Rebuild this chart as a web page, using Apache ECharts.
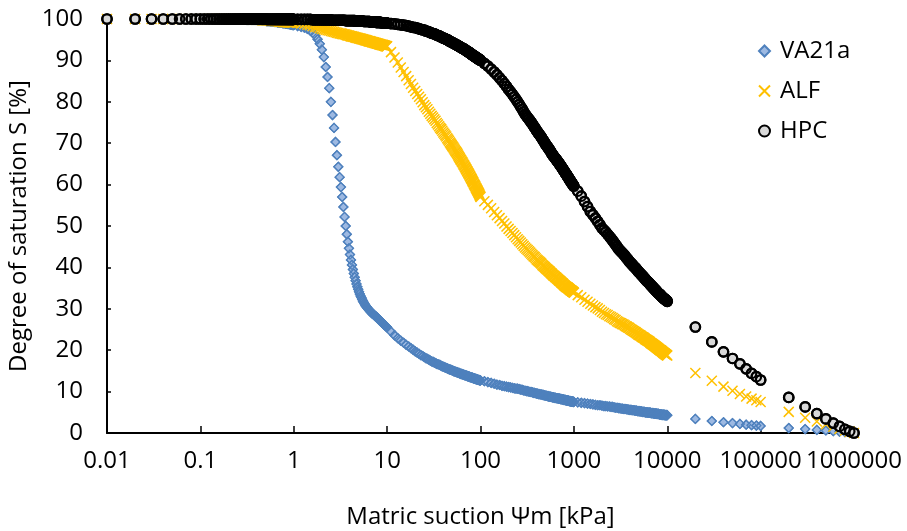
<!DOCTYPE html>
<html>
<head>
<meta charset="utf-8">
<script src="https://cdn.jsdelivr.net/npm/echarts@6/dist/echarts.min.js"></script>
<style>html,body{margin:0;padding:0;background:#fff;}#chart{width:907px;height:531px;}</style>
</head>
<body>
<div id="chart"></div>
<script>
// Matric suction values [kPa] (x)
const suction = [
0.01,0.02,0.03,0.04,0.05,0.06,0.07,0.08,0.09,0.1,
0.11,0.12,0.13,0.14,0.15,0.16,0.17,0.18,0.19,0.2,
0.21,0.22,0.23,0.24,0.25,0.26,0.27,0.28,0.29,0.3,
0.31,0.32,0.33,0.34,0.35,0.36,0.37,0.38,0.39,0.4,
0.41,0.42,0.43,0.44,0.45,0.46,0.47,0.48,0.49,0.5,
0.51,0.52,0.53,0.54,0.55,0.56,0.57,0.58,0.59,0.6,
0.61,0.62,0.63,0.64,0.65,0.66,0.67,0.68,0.69,0.7,
0.71,0.72,0.73,0.74,0.75,0.76,0.77,0.78,0.79,0.8,
0.81,0.82,0.83,0.84,0.85,0.86,0.87,0.88,0.89,0.9,
0.91,0.92,0.93,0.94,0.95,0.96,0.97,0.98,0.99,1,
1.1,1.2,1.3,1.4,1.5,1.6,1.7,1.8,1.9,2,
2.1,2.2,2.3,2.4,2.5,2.6,2.7,2.8,2.9,3,
3.1,3.2,3.3,3.4,3.5,3.6,3.7,3.8,3.9,4,
4.1,4.2,4.3,4.4,4.5,4.6,4.7,4.8,4.9,5,
5.1,5.2,5.3,5.4,5.5,5.6,5.7,5.8,5.9,6,
6.1,6.2,6.3,6.4,6.5,6.6,6.7,6.8,6.9,7,
7.1,7.2,7.3,7.4,7.5,7.6,7.7,7.8,7.9,8,
8.1,8.2,8.3,8.4,8.5,8.6,8.7,8.8,8.9,9,
9.1,9.2,9.3,9.4,9.5,9.6,9.7,9.8,9.9,10,
11,12,13,14,15,16,17,18,19,20,
21,22,23,24,25,26,27,28,29,30,
31,32,33,34,35,36,37,38,39,40,
41,42,43,44,45,46,47,48,49,50,
51,52,53,54,55,56,57,58,59,60,
61,62,63,64,65,66,67,68,69,70,
71,72,73,74,75,76,77,78,79,80,
81,82,83,84,85,86,87,88,89,90,
91,92,93,94,95,96,97,98,99,100,
110,120,130,140,150,160,170,180,190,200,
210,220,230,240,250,260,270,280,290,300,
310,320,330,340,350,360,370,380,390,400,
410,420,430,440,450,460,470,480,490,500,
510,520,530,540,550,560,570,580,590,600,
610,620,630,640,650,660,670,680,690,700,
710,720,730,740,750,760,770,780,790,800,
810,820,830,840,850,860,870,880,890,900,
910,920,930,940,950,960,970,980,990,1000,
1100,1200,1300,1400,1500,1600,1700,1800,1900,2000,
2100,2200,2300,2400,2500,2600,2700,2800,2900,3000,
3100,3200,3300,3400,3500,3600,3700,3800,3900,4000,
4100,4200,4300,4400,4500,4600,4700,4800,4900,5000,
5100,5200,5300,5400,5500,5600,5700,5800,5900,6000,
6100,6200,6300,6400,6500,6600,6700,6800,6900,7000,
7100,7200,7300,7400,7500,7600,7700,7800,7900,8000,
8100,8200,8300,8400,8500,8600,8700,8800,8900,9000,
9100,9200,9300,9400,9500,9600,9700,9800,9900,10000,
20000,30000,40000,50000,60000,70000,80000,90000,100000,
200000,300000,400000,500000,600000,700000,800000,900000,1000000
];

// Degree of saturation [%] – VA21a
const va21a = [
100,100,100,100,100,100,100,100,100,100,
100,100,100,100,100,100,100,100,100,100,
99.9,99.9,99.9,99.9,99.9,99.9,99.9,99.9,99.9,99.9,
99.8,99.8,99.8,99.8,99.8,99.8,99.8,99.8,99.8,99.8,
99.7,99.7,99.7,99.7,99.7,99.6,99.6,99.6,99.6,99.6,
99.5,99.5,99.5,99.5,99.5,99.4,99.4,99.4,99.4,99.4,
99.4,99.3,99.3,99.3,99.3,99.3,99.2,99.2,99.2,99.2,
99.1,99.1,99.1,99.1,99.1,99.0,99.0,99.0,99.0,99.0,
99.0,98.9,98.9,98.9,98.9,98.8,98.8,98.8,98.8,98.8,
98.7,98.7,98.7,98.7,98.7,98.6,98.6,98.6,98.6,98.5,
98.3,98.1,97.9,97.6,97.2,96.7,96.0,95.1,94.0,92.6,
90.8,88.4,86.0,83.3,80.0,76.8,73.7,70.3,67.1,64.3,
61.8,59.4,57.0,54.6,52.2,50.0,48.0,46.2,44.6,43.1,
41.8,40.6,39.5,38.5,37.6,36.8,36.0,35.3,34.7,34.1,
33.6,33.1,32.7,32.3,31.9,31.6,31.3,31.0,30.7,30.5,
30.3,30.1,29.9,29.7,29.5,29.4,29.2,29.1,28.9,28.8,
28.7,28.6,28.4,28.3,28.2,28.1,28.0,27.9,27.7,27.6,
27.5,27.4,27.2,27.1,27.0,26.9,26.8,26.7,26.6,26.5,
26.4,26.3,26.2,26.1,26.0,25.9,25.8,25.7,25.6,25.5,
24.5,23.6,22.9,22.3,21.8,21.3,20.9,20.5,20.1,19.7,
19.4,19.1,18.8,18.6,18.3,18.1,17.9,17.7,17.5,17.3,
17.2,17.0,16.9,16.7,16.6,16.5,16.4,16.2,16.1,16.0,
15.9,15.8,15.7,15.6,15.5,15.4,15.3,15.3,15.2,15.1,
15.0,14.9,14.9,14.8,14.7,14.7,14.6,14.5,14.5,14.4,
14.3,14.3,14.2,14.2,14.1,14.1,14.0,14.0,13.9,13.9,
13.8,13.8,13.7,13.7,13.6,13.6,13.5,13.5,13.4,13.4,
13.4,13.3,13.3,13.2,13.2,13.2,13.1,13.1,13.0,13.0,
13.0,12.9,12.9,12.9,12.8,12.8,12.8,12.7,12.7,12.7,
12.5,12.3,12.1,11.9,11.7,11.6,11.4,11.3,11.2,11.1,
11.0,10.9,10.8,10.7,10.7,10.6,10.5,10.4,10.3,10.2,
10.1,10.1,10.0,9.9,9.9,9.8,9.7,9.7,9.6,9.5,
9.5,9.4,9.4,9.3,9.3,9.2,9.2,9.1,9.1,9.0,
9.0,8.9,8.9,8.8,8.8,8.8,8.7,8.7,8.6,8.6,
8.6,8.5,8.5,8.5,8.4,8.4,8.4,8.3,8.3,8.3,
8.3,8.2,8.2,8.2,8.1,8.1,8.1,8.0,8.0,8.0,
8.0,7.9,7.9,7.9,7.8,7.8,7.8,7.8,7.7,7.7,
7.7,7.7,7.6,7.6,7.6,7.6,7.6,7.5,7.5,7.5,
7.4,7.3,7.2,7.1,7.0,6.9,6.8,6.7,6.7,6.6,
6.5,6.5,6.4,6.4,6.3,6.3,6.2,6.1,6.1,6.0,
6.0,5.9,5.9,5.8,5.8,5.8,5.7,5.7,5.6,5.6,
5.6,5.5,5.5,5.5,5.4,5.4,5.4,5.3,5.3,5.3,
5.2,5.2,5.2,5.1,5.1,5.1,5.1,5.0,5.0,5.0,
5.0,4.9,4.9,4.9,4.9,4.9,4.8,4.8,4.8,4.8,
4.8,4.7,4.7,4.7,4.7,4.7,4.6,4.6,4.6,4.6,
4.6,4.5,4.5,4.5,4.5,4.5,4.4,4.4,4.4,4.4,
4.4,4.4,4.4,4.3,4.3,4.3,4.3,4.3,4.3,4.3,
3.4,2.9,2.6,2.4,2.2,2.0,1.9,1.8,1.7,
1.2,0.95,0.75,0.6,0.45,0.33,0.22,0.1,0
];

// Degree of saturation [%] – ALF
const alf = [
100,100,100,100,100,100,100,100,100,100,
100,100,100,100,100,100,100,100,100,100,
99.9,99.9,99.9,99.9,99.9,99.9,99.9,99.9,99.9,99.9,
99.9,99.9,99.9,99.9,99.9,99.8,99.8,99.8,99.8,99.8,
99.8,99.8,99.8,99.8,99.8,99.7,99.7,99.7,99.7,99.7,
99.7,99.7,99.7,99.7,99.7,99.6,99.6,99.6,99.6,99.6,
99.6,99.6,99.5,99.5,99.5,99.5,99.5,99.5,99.4,99.4,
99.4,99.4,99.4,99.4,99.4,99.3,99.3,99.3,99.3,99.3,
99.3,99.3,99.3,99.3,99.3,99.2,99.2,99.2,99.2,99.2,
99.2,99.2,99.2,99.2,99.2,99.2,99.2,99.2,99.2,99.2,
99.1,98.9,98.8,98.6,98.5,98.3,98.1,98.0,97.8,97.6,
97.5,97.4,97.3,97.2,97.1,97.0,96.9,96.8,96.7,96.6,
96.5,96.5,96.4,96.3,96.3,96.2,96.1,96.0,96.0,95.9,
95.8,95.8,95.7,95.7,95.6,95.5,95.5,95.4,95.4,95.3,
95.3,95.2,95.2,95.1,95.1,95.0,95.0,94.9,94.9,94.8,
94.8,94.7,94.7,94.6,94.6,94.6,94.5,94.5,94.4,94.4,
94.4,94.3,94.3,94.2,94.2,94.2,94.1,94.1,94.0,94.0,
94.0,93.9,93.9,93.9,93.8,93.8,93.8,93.7,93.7,93.7,
93.7,93.6,93.6,93.6,93.5,93.5,93.5,93.4,93.4,93.4,
92.0,90.7,89.5,88.3,87.2,86.2,85.2,84.3,83.4,82.6,
81.9,81.2,80.6,79.9,79.2,78.7,78.2,77.6,77.1,76.6,
76.2,75.8,75.4,74.9,74.5,74.1,73.7,73.4,73.0,72.6,
72.3,71.9,71.6,71.2,70.9,70.6,70.2,69.9,69.6,69.3,
69.0,68.7,68.4,68.1,67.9,67.6,67.3,67.0,66.7,66.4,
66.1,65.9,65.6,65.4,65.1,64.8,64.6,64.3,64.1,63.8,
63.6,63.3,63.1,62.8,62.6,62.4,62.1,61.9,61.6,61.4,
61.2,60.9,60.7,60.5,60.2,60.0,59.8,59.6,59.3,59.1,
58.9,58.7,58.5,58.3,58.1,57.9,57.7,57.4,57.2,57.0,
56.0,55.1,54.3,53.4,52.6,51.9,51.2,50.6,49.9,49.3,
48.8,48.3,47.8,47.3,46.8,46.4,46.0,45.6,45.2,44.8,
44.5,44.2,43.9,43.6,43.3,43.0,42.7,42.5,42.2,41.9,
41.7,41.5,41.3,41.1,40.9,40.6,40.4,40.2,40.0,39.8,
39.6,39.5,39.3,39.1,39.0,38.8,38.6,38.5,38.3,38.1,
38.0,37.9,37.7,37.6,37.5,37.3,37.2,37.1,36.9,36.8,
36.7,36.6,36.4,36.3,36.2,36.1,36.0,35.8,35.7,35.6,
35.5,35.4,35.3,35.2,35.2,35.1,35.0,34.9,34.8,34.7,
34.6,34.5,34.5,34.4,34.3,34.2,34.1,34.1,34.0,33.9,
33.3,32.8,32.2,31.7,31.2,30.8,30.4,30.1,29.7,29.3,
29.0,28.7,28.5,28.2,28.0,27.8,27.5,27.3,27.0,26.8,
26.6,26.5,26.3,26.2,26.0,25.8,25.7,25.5,25.4,25.2,
25.0,24.9,24.7,24.6,24.4,24.3,24.1,24.0,23.8,23.7,
23.6,23.5,23.3,23.2,23.1,23.0,22.9,22.7,22.6,22.5,
22.4,22.3,22.2,22.1,22.0,21.8,21.7,21.6,21.5,21.4,
21.3,21.2,21.1,21.0,20.9,20.8,20.7,20.6,20.5,20.4,
20.3,20.2,20.1,20.0,20.0,19.9,19.8,19.7,19.6,19.5,
19.4,19.3,19.3,19.2,19.1,19.0,18.9,18.9,18.8,18.7,
14.5,12.6,11.2,10.2,9.4,8.8,8.3,7.9,7.5,
5.1,3.7,2.8,2.1,1.5,1.0,0.6,0.3,0
];

// Degree of saturation [%] – HPC
const hpc = [
100,100,100,100,100,100,100,100,100,100,
100,100,100,100,100,100,100,100,100,100,
100,100,100,100,100,100,100,100,100,100,
100,100,100,100,100,100,100,100,100,100,
100,100,100,100,100,100,100,100,100,100,
99.9,99.9,99.9,99.9,99.9,99.9,99.9,99.9,99.9,99.9,
99.9,99.9,99.9,99.9,99.9,99.9,99.9,99.9,99.9,99.9,
99.9,99.9,99.9,99.9,99.9,99.9,99.9,99.9,99.9,99.9,
99.9,99.9,99.9,99.9,99.9,99.9,99.9,99.9,99.9,99.9,
99.9,99.9,99.9,99.9,99.9,99.9,99.9,99.9,99.9,99.9,
99.9,99.9,99.9,99.9,99.9,99.8,99.8,99.8,99.8,99.8,
99.8,99.8,99.8,99.8,99.8,99.7,99.7,99.7,99.7,99.7,
99.7,99.7,99.7,99.7,99.7,99.6,99.6,99.6,99.6,99.6,
99.6,99.6,99.6,99.6,99.6,99.5,99.5,99.5,99.5,99.5,
99.5,99.5,99.5,99.5,99.5,99.4,99.4,99.4,99.4,99.4,
99.4,99.4,99.4,99.4,99.4,99.3,99.3,99.3,99.3,99.3,
99.3,99.3,99.3,99.3,99.3,99.2,99.2,99.2,99.2,99.2,
99.2,99.2,99.2,99.2,99.2,99.1,99.1,99.1,99.1,99.1,
99.1,99.1,99.1,99.1,99.1,99.0,99.0,99.0,99.0,99.0,
98.9,98.8,98.7,98.6,98.5,98.4,98.3,98.1,98.0,97.9,
97.8,97.6,97.5,97.4,97.3,97.1,97.0,96.9,96.7,96.6,
96.5,96.4,96.3,96.1,96.0,95.9,95.8,95.6,95.5,95.4,
95.3,95.2,95.1,95.0,94.9,94.7,94.6,94.5,94.4,94.3,
94.2,94.1,94.0,93.9,93.8,93.7,93.6,93.5,93.4,93.3,
93.2,93.1,93.0,92.9,92.9,92.8,92.7,92.6,92.5,92.4,
92.3,92.2,92.1,92.0,92.0,91.9,91.8,91.7,91.6,91.5,
91.4,91.3,91.3,91.2,91.1,91.0,90.9,90.9,90.8,90.7,
90.6,90.6,90.5,90.4,90.4,90.3,90.2,90.1,90.1,90.0,
89.3,88.6,87.9,87.2,86.5,85.8,85.1,84.4,83.7,83.0,
82.4,81.8,81.2,80.6,80.0,79.4,78.8,78.2,77.6,77.0,
76.6,76.2,75.8,75.4,75.0,74.6,74.2,73.8,73.4,73.0,
72.7,72.3,72.0,71.7,71.4,71.0,70.7,70.4,70.0,69.7,
69.4,69.2,68.9,68.6,68.4,68.1,67.8,67.5,67.3,67.0,
66.8,66.6,66.4,66.2,66.0,65.8,65.6,65.4,65.2,65.0,
64.8,64.6,64.4,64.2,64.0,63.8,63.6,63.4,63.2,63.0,
62.8,62.6,62.5,62.3,62.1,61.9,61.7,61.6,61.4,61.2,
61.0,60.9,60.7,60.5,60.4,60.2,60.1,59.9,59.8,59.6,
58.4,57.2,55.9,54.7,53.5,52.7,51.9,51.1,50.3,49.5,
49.0,48.5,48.0,47.5,47.0,46.5,46.0,45.5,45.0,44.5,
44.2,43.8,43.5,43.2,42.9,42.5,42.2,41.9,41.5,41.2,
41.0,40.7,40.5,40.2,40.0,39.8,39.5,39.3,39.0,38.8,
38.6,38.4,38.2,38.0,37.8,37.6,37.4,37.2,37.0,36.8,
36.6,36.5,36.3,36.2,36.0,35.8,35.7,35.5,35.4,35.2,
35.1,34.9,34.8,34.6,34.5,34.4,34.2,34.1,33.9,33.8,
33.7,33.6,33.5,33.4,33.3,33.1,33.0,32.9,32.8,32.7,
32.6,32.5,32.4,32.3,32.3,32.2,32.1,32.0,31.9,31.8,
25.6,22.0,19.6,18.0,16.7,15.5,14.4,13.6,12.8,
8.6,6.3,4.7,3.4,2.4,1.6,0.9,0.4,0
];

const seriesNames = ['VA21a', 'ALF', 'HPC'];
const xTickLabels = ['0.01', '0.1', '1', '10', '100', '1000', '10000', '100000', '1000000'];
const yTickLabels = ['0', '10', '20', '30', '40', '50', '60', '70', '80', '90', '100'];

const FONT = '"Open Sans", "Noto Sans", sans-serif';
const X_MARK = 'path://M0,0L10,10M10,0L0,10';

function pairs(ys) { return suction.map((x, i) => [x, ys[i]]); }

const VA_STYLE = { symbol: 'diamond', symbolSize: 9, fill: '#9DB9E2', stroke: '#4F81BD', width: 1.2 };
const HPC_STYLE = { symbol: 'circle', symbolSize: 9.5, fill: '#D9D9D9', stroke: '#000000', width: 2.2 };

// marker series: filled markers, plus their outlines re-stroked on top so that
// densely packed markers merge into a solid band as in the original chart
function markerSeries(name, ys, st) {
  return [
    {
      type: 'scatter', name: name, data: pairs(ys),
      symbol: st.symbol, symbolSize: st.symbolSize,
      itemStyle: { color: st.fill, borderColor: st.stroke, borderWidth: st.width, opacity: 1 },
      emphasis: { disabled: true }, silent: true
    },
    {
      type: 'scatter', name: name + ' outline', data: pairs(ys),
      symbol: st.symbol, symbolSize: st.symbolSize,
      itemStyle: { color: 'rgba(0,0,0,0)', borderColor: st.stroke, borderWidth: st.width, opacity: 1 },
      emphasis: { disabled: true }, silent: true
    }
  ];
}

const chart = echarts.init(document.getElementById('chart'), null, { renderer: 'canvas' });
chart.setOption({
  animation: false,
  backgroundColor: '#ffffff',
  textStyle: { fontFamily: FONT },
  grid: { left: 107, right: 53, top: 19, bottom: 98, containLabel: false, outerBoundsMode: 'none' },
  legend: {
    orient: 'vertical',
    left: 753,
    top: 32,
    itemWidth: 11,
    itemHeight: 11,
    itemGap: 12,
    selectedMode: false,
    textStyle: { fontFamily: FONT, fontSize: 24, color: '#000', lineHeight: 28, padding: [0, 0, 0, 5] },
    data: [
      { name: seriesNames[0], icon: 'diamond' },
      { name: seriesNames[1], icon: X_MARK },
      { name: seriesNames[2], icon: 'circle' }
    ]
  },
  xAxis: {
    type: 'log',
    logBase: 10,
    min: 0.01,
    max: 1000000,
    name: 'Matric suction Ψm [kPa]',
    nameLocation: 'middle',
    nameGap: 72,
    nameTextStyle: { fontFamily: FONT, fontSize: 24, color: '#000' },
    axisLine: { show: true, lineStyle: { color: '#000', width: 2 } },
    axisTick: { show: true, inside: true, length: 7, lineStyle: { color: '#000', width: 1.5 } },
    minorTick: { show: false },
    splitLine: { show: false },
    axisLabel: {
      show: true,
      showMinLabel: true,
      showMaxLabel: true,
      hideOverlap: false,
      margin: 16,
      fontFamily: FONT,
      fontSize: 24,
      color: '#000',
      formatter: v => xTickLabels[Math.round(Math.log10(v)) + 2]
    }
  },
  yAxis: {
    type: 'value',
    min: 0,
    max: 100,
    interval: 10,
    name: 'Degree of saturation S [%]',
    nameLocation: 'middle',
    nameGap: 65,
    nameRotate: 90,
    nameTextStyle: { fontFamily: FONT, fontSize: 24, color: '#000' },
    axisLine: { show: true, lineStyle: { color: '#000', width: 2 } },
    axisTick: { show: true, inside: true, length: 4, lineStyle: { color: '#000', width: 1.5 } },
    splitLine: { show: false },
    axisLabel: {
      margin: 24,
      fontFamily: FONT,
      fontSize: 24,
      color: '#000',
      formatter: v => yTickLabels[Math.round(v / 10)]
    }
  },
  series: [
    ...markerSeries(seriesNames[0], va21a, VA_STYLE),
    {
      type: 'scatter', name: seriesNames[1], data: pairs(alf),
      symbol: X_MARK, symbolSize: 10,
      itemStyle: { color: 'rgba(255,192,0,0)', borderColor: '#FFC000', borderWidth: 1.5, opacity: 1 },
      emphasis: { disabled: true }, silent: true
    },
    ...markerSeries(seriesNames[2], hpc, HPC_STYLE)
  ]
});
</script>
</body>
</html>
